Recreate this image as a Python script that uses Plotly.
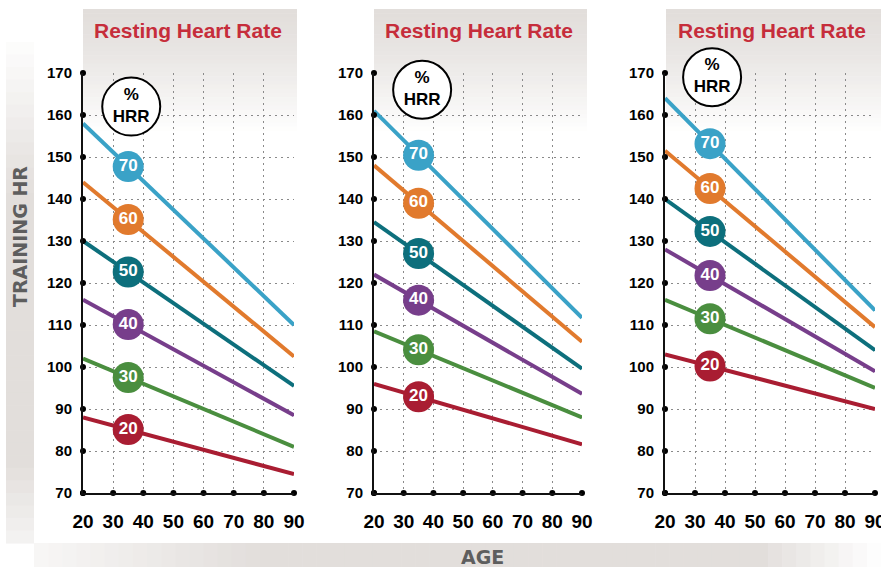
import numpy as np
import plotly.graph_objects as go

W, H = 881, 567

# ---------------- data ----------------
ages = [20, 90]
hrr_pcts = [70, 60, 50, 40, 30, 20]
rhr_values = [60, 70, 80]
label_age = 35

rhr60_age20 = [158, 144, 130, 116, 102, 88]
rhr60_age90 = [110, 102.5, 95.5, 88.5, 81, 74.5]
rhr70_age20 = [161, 148, 134.5, 122, 108.5, 96]
rhr70_age90 = [111.7, 106, 99.6, 93.6, 88, 81.6]
rhr80_age20 = [164, 151.5, 140, 128, 116, 103]
rhr80_age90 = [113.5, 109.5, 104, 99, 95, 90]

x_ticks = [20, 30, 40, 50, 60, 70, 80, 90]
y_ticks = [70, 80, 90, 100, 110, 120, 130, 140, 150, 160, 170]

hrr_badge_pos = [(36, 162), (36.2, 166), (35.7, 169)]
rhr_badge_pos = [(74.7, 172), (75.5, 172), (75, 172)]

colors = {70: "#3aa2c7", 60: "#e17a2d", 50: "#0d6f7c", 40: "#773e8b", 30: "#4a8e3f", 20: "#a91d32"}
TITLE_RED = "#c62d3b"

panels = [
    (rhr60_age20, rhr60_age90),
    (rhr70_age20, rhr70_age90),
    (rhr80_age20, rhr80_age90),
]

# layout geometry in pixels
x_dom_px = [(83, 294), (374, 582), (665, 875)]
y_top_px, y_bot_px = 73, 493

NARROW = "Liberation Sans Narrow, Liberation Sans, Arial, sans-serif"
GEO = "DejaVu Sans, Open Sans, sans-serif"

fig = go.Figure()
shapes = []
annotations = []


def px_x(x):
    return x / W


def px_y(y):
    return 1 - y / H


def lerp_col(c1, c2, t):
    return "rgb({},{},{})".format(*[int(round(a + (b - a) * t)) for a, b in zip(c1, c2)])


GREY = (226, 222, 219)
WHITE = (255, 255, 255)

# header gradients
header_px = [(83, 297), (374, 587), (666, 881)]
for (x0, x1) in header_px:
    n = 30
    y0, y1 = 9, 135
    for i in range(n):
        t = i / (n - 1)
        ya = y0 + (y1 - y0) * i / n
        yb = y0 + (y1 - y0) * (i + 1) / n + 0.6
        shapes.append(dict(type="rect", xref="paper", yref="paper", layer="below",
                           x0=px_x(x0), x1=px_x(x1), y0=px_y(yb), y1=px_y(ya),
                           fillcolor=lerp_col(GREY, WHITE, t ** 1.3), line=dict(width=0)))

# left vertical band
n = 40
y0, y1 = 42, 543
for i in range(n):
    ya = y0 + (y1 - y0) * i / n
    yb = y0 + (y1 - y0) * (i + 1) / n + 0.6
    t = i / (n - 1)
    if t < 0.3:
        c = lerp_col(WHITE, GREY, t / 0.3 * 0.9 + 0.1)
    elif t < 0.85:
        c = lerp_col(GREY, GREY, 0)
    else:
        c = lerp_col(GREY, WHITE, (t - 0.85) / 0.15 * 0.6)
    shapes.append(dict(type="rect", xref="paper", yref="paper", layer="below",
                       x0=px_x(6), x1=px_x(34), y0=px_y(yb), y1=px_y(ya),
                       fillcolor=c, line=dict(width=0)))

# bottom band
n = 60
x0, x1 = 34, 881
for i in range(n):
    xa = x0 + (x1 - x0) * i / n
    xb = x0 + (x1 - x0) * (i + 1) / n + 0.6
    xm = (xa + xb) / 2
    if xm < 260:
        c = lerp_col(WHITE, GREY, 0.25 + 0.75 * (xm - 34) / 226)
    elif xm < 760:
        c = lerp_col(GREY, GREY, 0)
    else:
        c = lerp_col(GREY, WHITE, (xm - 760) / 121)
    shapes.append(dict(type="rect", xref="paper", yref="paper", layer="below",
                       x0=px_x(xa), x1=px_x(xb), y0=px_y(567), y1=px_y(543),
                       fillcolor=c, line=dict(width=0)))

layout_axes = {}
for p, (starts, ends) in enumerate(panels):
    xa_name = "xaxis" if p == 0 else f"xaxis{p+1}"
    ya_name = "yaxis" if p == 0 else f"yaxis{p+1}"
    xr = "x" if p == 0 else f"x{p+1}"
    yr = "y" if p == 0 else f"y{p+1}"
    dx0, dx1 = x_dom_px[p]
    layout_axes[xa_name] = dict(
        domain=[px_x(dx0), px_x(dx1)], range=[20, 90], anchor=yr,
        tickvals=x_ticks, ticktext=[str(v) for v in x_ticks],
        showgrid=True, gridcolor="#8a8a8a", gridwidth=1.3, griddash="2px,4px",
        showline=True, linecolor="#111111", linewidth=2, zeroline=False,
        ticks="", ticklabelstandoff=10, automargin=False, ticklabeloverflow="allow",
        tickfont=dict(family=NARROW, size=19, color="#000000", weight="bold"),
        fixedrange=True,
    )
    layout_axes[ya_name] = dict(
        domain=[px_y(y_bot_px), px_y(y_top_px)], range=[70, 170], anchor=xr,
        tickvals=y_ticks, ticktext=[str(v) for v in y_ticks],
        showgrid=True, gridcolor="#8a8a8a", gridwidth=1.3, griddash="2px,4px",
        showline=True, linecolor="#111111", linewidth=2, zeroline=False,
        ticks="", ticklabelstandoff=6, automargin=False,
        tickfont=dict(family=NARROW, size=15, color="#000000", weight="bold"),
        fixedrange=True,
    )

    # lines
    for k, pct in enumerate(hrr_pcts):
        fig.add_trace(go.Scatter(
            x=ages, y=[starts[k], ends[k]], mode="lines",
            line=dict(color=colors[pct], width=4), xaxis=xr, yaxis=yr,
            showlegend=False, hoverinfo="skip", cliponaxis=False))

    # axis dots
    fig.add_trace(go.Scatter(
        x=[20] * len(y_ticks), y=y_ticks, mode="markers",
        marker=dict(color="#000", size=6), xaxis=xr, yaxis=yr,
        showlegend=False, hoverinfo="skip", cliponaxis=False))
    fig.add_trace(go.Scatter(
        x=x_ticks, y=[70] * len(x_ticks), mode="markers",
        marker=dict(color="#000", size=6), xaxis=xr, yaxis=yr,
        showlegend=False, hoverinfo="skip", cliponaxis=False))

    # labels
    for k, pct in enumerate(hrr_pcts):
        ly = float(np.interp(label_age, ages, [starts[k], ends[k]]))
        fig.add_trace(go.Scatter(
            x=[label_age], y=[ly], mode="markers+text", text=[str(pct)],
            textposition="middle center",
            textfont=dict(family=NARROW, size=17, color="white", weight="bold"),
            marker=dict(color=colors[pct], size=31, line=dict(width=0)),
            xaxis=xr, yaxis=yr, showlegend=False, hoverinfo="skip", cliponaxis=False))

    # %HRR badge
    bx, by = hrr_badge_pos[p]
    fig.add_trace(go.Scatter(
        x=[bx], y=[by], mode="markers+text", text=["%<br>HRR"],
        textposition="middle center",
        textfont=dict(family=NARROW, size=17, color="black", weight="bold"),
        marker=dict(color="white", size=58, line=dict(width=2, color="black")),
        xaxis=xr, yaxis=yr, showlegend=False, hoverinfo="skip", cliponaxis=False))

    # RHR badge
    rx, ry = rhr_badge_pos[p]
    fig.add_trace(go.Scatter(
        x=[rx], y=[ry], mode="markers+text", text=[str(rhr_values[p])],
        textposition="middle center",
        textfont=dict(family=NARROW, size=24, color=TITLE_RED, weight="bold"),
        marker=dict(color="white", size=42, line=dict(width=2.5, color=TITLE_RED)),
        xaxis=xr, yaxis=yr, showlegend=False, hoverinfo="skip", cliponaxis=False))

    # title
    hx0, hx1 = header_px[p]
    annotations.append(dict(
        text="Resting Heart Rate", xref="paper", yref="paper",
        x=px_x((hx0 + hx1) / 2 - 2), y=px_y(30), xanchor="center", yanchor="middle",
        showarrow=False, font=dict(family=NARROW, size=21, color=TITLE_RED, weight="bold")))

annotations.append(dict(
    text="TRAINING HR", xref="paper", yref="paper", x=px_x(20), y=px_y(237),
    xanchor="center", yanchor="middle", textangle=-90, showarrow=False,
    font=dict(family=GEO, size=19, color="#5e5e5e", weight="bold")))
annotations.append(dict(
    text="AGE", xref="paper", yref="paper", x=px_x(482), y=px_y(557),
    xanchor="center", yanchor="middle", showarrow=False,
    font=dict(family=GEO, size=19, color="#5e5e5e", weight="bold")))

fig.update_layout(
    width=W, height=H, autosize=False,
    margin=dict(l=0, r=0, t=0, b=0, pad=0, autoexpand=False),
    paper_bgcolor="white", plot_bgcolor="rgba(0,0,0,0)",
    shapes=shapes, annotations=annotations, showlegend=False,
    **layout_axes,
)

fig.write_html(
    "out.html",
    config={"displayModeBar": False},
    post_script="document.body.style.margin='0';document.body.style.padding='0';"
                "document.body.style.overflow='hidden';",
)
